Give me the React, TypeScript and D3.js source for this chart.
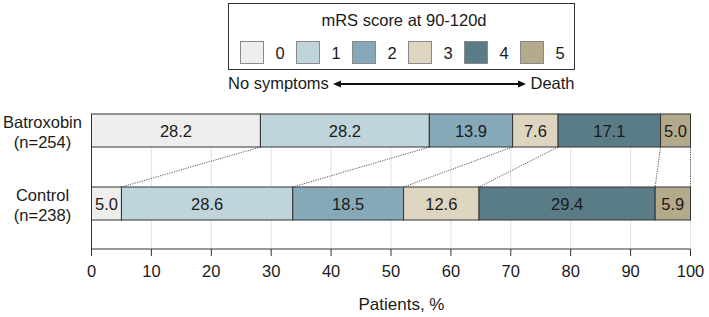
import React from "react";
import * as d3 from "d3";

const groups = ["Batroxobin", "Control"];
const groupN = ["(n=254)", "(n=238)"];
const scores = ["0", "1", "2", "3", "4", "5"];
const batroxobin = [28.2, 28.2, 13.9, 7.6, 17.1, 5.0];
const control = [5.0, 28.6, 18.5, 12.6, 29.4, 5.9];
const scoreColors = ["#eeeeec", "#c0d4dc", "#86a9b9", "#ddd5bf", "#5a7c87", "#b4a98b"];
const xTicks = [0, 10, 20, 30, 40, 50, 60, 70, 80, 90, 100];

const W = 709;
const H = 317;
const FONT = "Arial, 'Liberation Sans', Helvetica, sans-serif";
const FS = 16.5;
const INK = "#1a1a1a";

export default function App() {
  const series = [batroxobin, control];

  const x = d3.scaleLinear().domain([0, 100]).range([91.5, 690.5]);
  const y = d3.scaleBand().domain(groups).range([114, 220]).paddingInner(40 / 73).paddingOuter(0);
  const color = d3.scaleOrdinal<string, string>().domain(scores).range(scoreColors);

  const axisY = 249;
  const plotTop = y(groups[0])!;

  // stacked segments
  const stacks = series.map((vals) => {
    const ends = Array.from(d3.cumsum(vals));
    return vals.map((v, i) => ({ score: scores[i], value: v, x0: ends[i] - v, x1: ends[i] }));
  });

  const bw = y.bandwidth();
  const yB = y(groups[0])! + bw;
  const yC = y(groups[1])!;
  const connectors = stacks[0].map((s, i) => ({ from: s.x1, to: stacks[1][i].x1 }));

  // legend layout
  const legX = 228.5, legY = 3.5, legW = 346, legH = 66;
  const sw = d3.scalePoint().domain(scores).range([240, 520]);

  return (
    <svg width={W} height={H} style={{ position: "absolute", left: 0, top: 0, fontFamily: FONT }}>
      <rect width={W} height={H} fill="#fff" />

      {/* gridlines */}
      <g>
        {xTicks.slice(1).map((t) => (
          <line key={t} x1={x(t)} x2={x(t)} y1={plotTop} y2={axisY} stroke="#e2e2e2" strokeWidth={1} />
        ))}
      </g>

      {/* connectors */}
      <g>
        {connectors.map((c, i) => (
          <line key={i} x1={x(c.from)} x2={x(c.to)} y1={yB} y2={yC}
            stroke="#444" strokeWidth={0.9} strokeDasharray="1.2,1.2" />
        ))}
      </g>

      {/* bars */}
      {stacks.map((segs, gi) => (
        <g key={groups[gi]}>
          {segs.map((s) => (
            <g key={s.score}>
              <rect x={x(s.x0)} y={y(groups[gi])} width={x(s.x1) - x(s.x0)} height={bw}
                fill={color(s.score)} stroke="#333" strokeWidth={1} />
              <text x={(x(s.x0) + x(s.x1)) / 2} y={y(groups[gi])! + bw / 2 + 6.3}
                textAnchor="middle" fontSize={FS} fill={INK}>
                {s.value.toFixed(1)}
              </text>
            </g>
          ))}
        </g>
      ))}

      {/* group labels */}
      {groups.map((g, gi) => {
        const cy = y(g)! + bw / 2;
        return (
          <g key={g} fontSize={FS} fill={INK} textAnchor="middle">
            <text x={42.5} y={cy - 2.5}>{g}</text>
            <text x={42.5} y={cy + 17.5}>{groupN[gi]}</text>
          </g>
        );
      })}

      {/* axes */}
      <line x1={x(0)} x2={x(0)} y1={plotTop} y2={axisY} stroke="#333" strokeWidth={1} />
      <line x1={x(0)} x2={x(100)} y1={axisY} y2={axisY} stroke="#333" strokeWidth={1} />
      {xTicks.map((t) => (
        <g key={t}>
          <line x1={x(t)} x2={x(t)} y1={axisY} y2={axisY + 7} stroke="#333" strokeWidth={1} />
          <text x={x(t)} y={axisY + 28} textAnchor="middle" fontSize={FS} fill={INK}>{t}</text>
        </g>
      ))}
      <text x={401.5} y={310} textAnchor="middle" fontSize={17} fill={INK}>Patients, %</text>

      {/* legend */}
      <rect x={legX} y={legY} width={legW} height={legH} fill="#fff" stroke="#333" strokeWidth={1} />
      <text x={404} y={25.5} textAnchor="middle" fontSize={FS} fill={INK}>mRS score at 90-120d</text>
      {scores.map((s) => (
        <g key={s}>
          <rect x={sw(s)! + 0.5} y={41.5} width={23} height={22} fill={color(s)} stroke="#8a8a8a" strokeWidth={1} />
          <text x={sw(s)! + 40} y={58.5} textAnchor="middle" fontSize={FS} fill={INK}>{s}</text>
        </g>
      ))}
      <text x={legX - 0.5} y={88.5} fontSize={FS} fill={INK}>No symptoms</text>
      <text x={legX + legW} y={88.5} textAnchor="end" fontSize={FS} fill={INK}>Death</text>
      <line x1={339} x2={520} y1={84} y2={84} stroke="#111" strokeWidth={1.8} />
      <path d="M333,84 L341,80.5 L341,87.5 Z" fill="#111" />
      <path d="M526,84 L518,80.5 L518,87.5 Z" fill="#111" />
    </svg>
  );
}
